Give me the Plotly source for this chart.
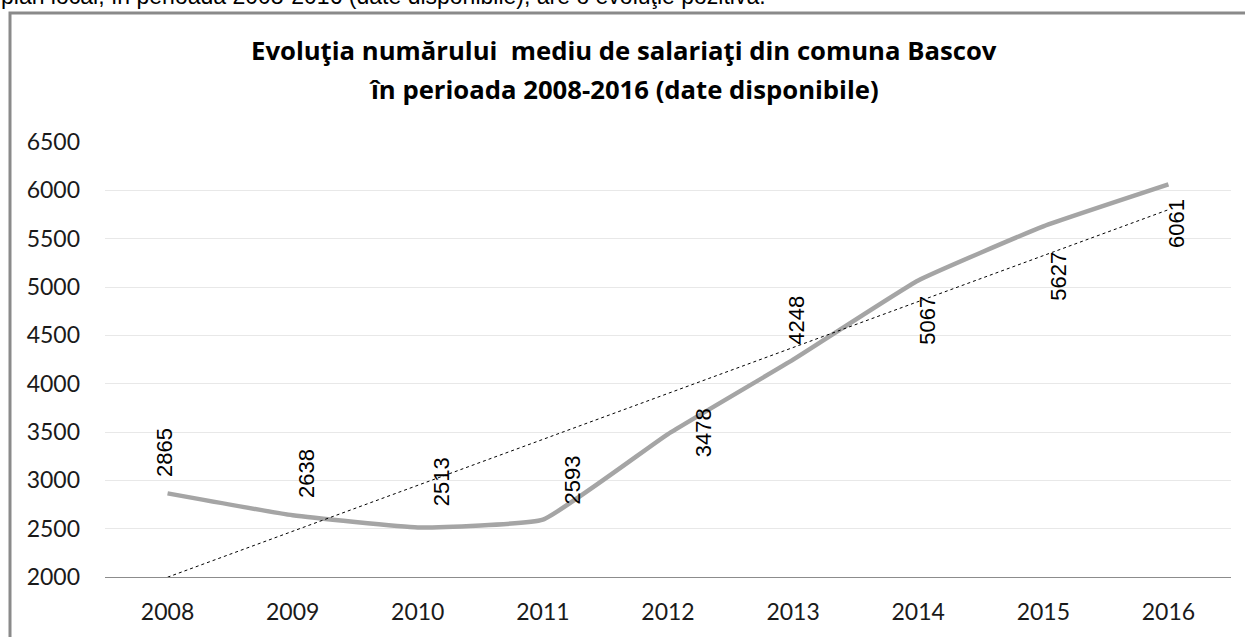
import numpy as np
import plotly.graph_objects as go

years = ["2008", "2009", "2010", "2011", "2012", "2013", "2014", "2015", "2016"]
salariati = [2865, 2638, 2513, 2593, 3478, 4248, 5067, 5627, 6061]
y_ticks = [2000, 2500, 3000, 3500, 4000, 4500, 5000, 5500, 6000, 6500]

title_line1 = "Evoluţia numărului  mediu de salariaţi din comuna Bascov"
title_line2 = "în perioada 2008-2016 (date disponibile)"
top_text = "plan local, în perioada 2008-2016 (date disponibile), are o evoluţie pozitivă."

# layout geometry (pixels)
W, H = 1245, 637
L, R, T, B = 105, 14, 142, 57
pw, ph = W - L - R, H - T - B


def px(x):
    return (x - L) / pw


def py(y):
    return (H - B - y) / ph


idx = list(range(len(years)))

# linear trendline (least squares, as in the spreadsheet trendline)
k, c = np.polyfit(idx, salariati, 1)
trend = [k * i + c for i in idx]

fig = go.Figure()
fig.add_trace(go.Scatter(
    x=idx, y=salariati, mode="lines",
    line=dict(color="#A5A5A5", width=4.5, shape="spline", smoothing=0.35),
    hoverinfo="skip", showlegend=False,
))
fig.add_trace(go.Scatter(
    x=idx, y=trend, mode="lines",
    line=dict(color="#000000", width=1, dash="3px,3px"),
    hoverinfo="skip", showlegend=False,
))

# rotated data labels, offsets (dx, dy) in pixels as placed in the original
label_offsets = [(-3, -41), (14, -42), (24, -46), (30, -40), (35, -1),
                 (4, -39), (9, 40), (15, 50), (8, 39)]
annotations = []
for i, v, (dx, dy) in zip(idx, salariati, label_offsets):
    annotations.append(dict(
        x=i, y=v, xref="x", yref="y", text=str(v), showarrow=False,
        textangle=-90, xanchor="center", yanchor="middle",
        xshift=dx, yshift=-dy,
        font=dict(family="Liberation Sans, Arial, sans-serif", size=22, color="#000000"),
    ))

title_font = dict(family="Open Sans, sans-serif", size=25.7, color="#000000")
annotations.append(dict(
    x=px(W / 2 + 1), y=py(50), xref="paper", yref="paper", text="<b>" + title_line1 + "</b>",
    showarrow=False, xanchor="center", yanchor="middle", font=title_font,
))
annotations.append(dict(
    x=px(W / 2 + 1), y=py(89), xref="paper", yref="paper", text="<b>" + title_line2 + "</b>",
    showarrow=False, xanchor="center", yanchor="middle", font=title_font,
))
annotations.append(dict(
    x=px(-1), y=py(10), xref="paper", yref="paper", text=top_text,
    showarrow=False, xanchor="left", yanchor="bottom",
    font=dict(family="Liberation Sans, Arial, sans-serif", size=23, color="#000000"),
))

shapes = [
    dict(type="rect", xref="paper", yref="paper",
         x0=px(10), x1=px(W + 20), y0=py(H + 20), y1=py(12),
         line=dict(color="#8A8A8A", width=3), fillcolor="rgba(0,0,0,0)", layer="below"),
]

fig.update_layout(
    width=W, height=H,
    margin=dict(l=L, r=R, t=T, b=B, pad=0),
    paper_bgcolor="#FFFFFF", plot_bgcolor="#FFFFFF",
    annotations=annotations, shapes=shapes,
    xaxis=dict(
        range=[-0.5, len(years) - 0.5], tickvals=idx, ticktext=years,
        showgrid=False, showline=True, linecolor="#8C8C8C", linewidth=1,
        ticks="", ticklabelstandoff=14, zeroline=False,
        tickfont=dict(family="Lato, sans-serif", size=23, color="#1A1A1A"),
    ),
    yaxis=dict(
        range=[2000, 6500], tickvals=y_ticks,
        showgrid=True, gridcolor="#E8E8E8", gridwidth=1,
        showline=False, zeroline=False, ticks="", ticklabelstandoff=24,
        tickfont=dict(family="Lato, sans-serif", size=23, color="#1A1A1A"),
    ),
)

fig.write_html("out.html", config={"displayModeBar": False},
               post_script="document.body.style.margin='0';")
